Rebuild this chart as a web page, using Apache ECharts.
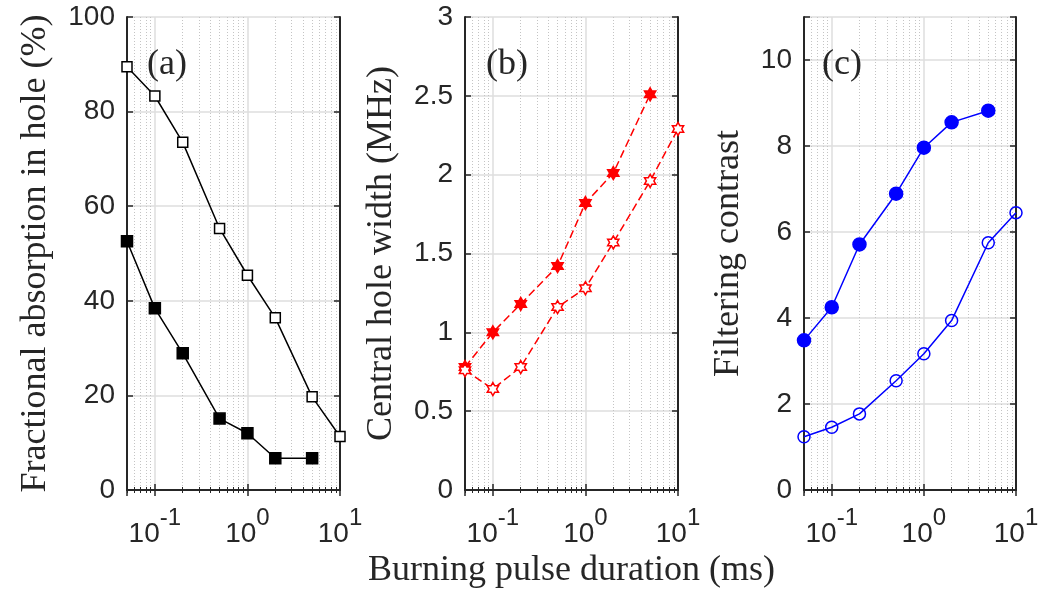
<!DOCTYPE html>
<html>
<head>
<meta charset="utf-8">
<title>Burning pulse duration</title>
<script src="https://cdn.jsdelivr.net/npm/echarts@6/dist/echarts.min.js"></script>
<style>
html,body{margin:0;padding:0;background:#fff}
#main{width:1063px;height:591px}
</style>
</head>
<body>
<div id="main"></div>
<script>
// burning pulse duration (ms)
var durations = [0.05, 0.1, 0.2, 0.5, 1, 2, 5, 10];
// (a) fractional absorption in hole (%)
var absorptionOpen = [89.5, 83.3, 73.5, 55.3, 45.4, 36.4, 19.7, 11.3];
var absorptionFilled = [52.6, 38.4, 28.9, 15.1, 12.0, 6.7, 6.7];
// (b) central hole width (MHz)
var widthFilled = [0.78, 1.0, 1.18, 1.42, 1.82, 2.01, 2.51];
var widthOpen = [0.76, 0.64, 0.78, 1.16, 1.28, 1.57, 1.96, 2.29];
// (c) filtering contrast
var contrastFilled = [3.48, 4.25, 5.71, 6.89, 7.96, 8.55, 8.82];
var contrastOpen = [1.24, 1.46, 1.77, 2.54, 3.17, 3.94, 5.75, 6.45];

var panelLabels = ['(a)', '(b)', '(c)'];
var yTitles = ['Fractional absorption in hole (%)', 'Central hole width (MHz)', 'Filtering contrast'];
var xTitle = 'Burning pulse duration (ms)';
var yMax = [100, 3, 11];
var yStep = [20, 0.5, 2];

var AX = '#262626';
var SERIF = 'Liberation Serif';
var SANS = 'Liberation Sans';

var lefts = [127, 465, 804];
var widths = [213, 213, 212];
var nameGaps = [91, 83, 75];
var labelLefts = [142, 481, 817];

// six pointed star marker
function hexagram() {
  var p = [];
  for (var k = 0; k < 12; k++) {
    var r = k % 2 ? 0.5774 : 1;
    var a = (-90 + 30 * k) * Math.PI / 180;
    p.push((k ? 'L' : 'M') + (50 + 50 * r * Math.cos(a)).toFixed(2) + ' ' + (50 + 50 * r * Math.sin(a)).toFixed(2));
  }
  return 'path://' + p.join(' ') + ' Z';
}
var HEX = hexagram();

function pts(ys) {
  return ys.map(function (y, i) { return [durations[i], y]; });
}

function logLabel(v) {
  var e = Math.log10(v);
  if (Math.abs(e - Math.round(e)) > 1e-6) return '';
  return '{b|10}{s|' + Math.round(e) + '}';
}

var grids = [], xAxes = [], yAxes = [], titles = [];
for (var i = 0; i < 3; i++) {
  grids.push({left: lefts[i], top: 17, width: widths[i], height: 473, outerBoundsMode: 'none'});
  titles.push({text: panelLabels[i], left: labelLefts[i], top: 42,
    textStyle: {fontFamily: SERIF, fontSize: 36, fontWeight: 'normal', color: AX}});
  // bottom log axis
  xAxes.push({
    type: 'log', logBase: 10, gridIndex: i, min: 0.05, max: 10, position: 'bottom',
    name: i === 1 ? xTitle : '', nameLocation: 'middle', nameGap: 74,
    nameTextStyle: {fontFamily: SERIF, fontSize: 36, color: AX, verticalAlign: 'middle'},
    axisLine: {show: true, lineStyle: {color: AX, width: 2}},
    axisTick: {show: true, inside: true, length: 6, lineStyle: {color: AX, width: 1.5}},
    minorTick: {show: true, splitNumber: 9, length: 3, lineStyle: {color: AX, width: 1}},
    axisLabel: {formatter: logLabel, margin: 16, color: AX,
      rich: {
        b: {fontFamily: SANS, fontSize: 28, color: AX, lineHeight: 42, verticalAlign: 'bottom'},
        s: {fontFamily: SANS, fontSize: 24, color: AX, lineHeight: 16, verticalAlign: 'top'}
      }},
    splitLine: {show: true, lineStyle: {color: '#dedede', width: 1.5}},
    minorSplitLine: {show: true, lineStyle: {color: '#c4c4c4', width: 1, type: [1, 2]}}
  });
  // top mirror axis
  xAxes.push({
    type: 'log', logBase: 10, gridIndex: i, min: 0.05, max: 10, position: 'top',
    axisLine: {show: true, lineStyle: {color: AX, width: 2}},
    axisTick: {show: true, inside: true, length: 6, lineStyle: {color: AX, width: 1.5}},
    minorTick: {show: true, splitNumber: 9, length: 3, lineStyle: {color: AX, width: 1}},
    axisLabel: {show: false}, splitLine: {show: false}
  });
  yAxes.push({
    type: 'value', gridIndex: i, min: 0, max: yMax[i], interval: yStep[i], position: 'left',
    name: yTitles[i], nameLocation: 'middle', nameGap: nameGaps[i], nameRotate: 90,
    nameTextStyle: {fontFamily: SERIF, fontSize: 36, color: AX, verticalAlign: 'middle'},
    axisLine: {show: true, lineStyle: {color: AX, width: 2}},
    axisTick: {show: true, inside: true, length: 6, lineStyle: {color: AX, width: 1.5}},
    axisLabel: {fontFamily: SANS, fontSize: 28, color: AX, margin: 12,
      formatter: function (v) { return v > 10 && v < 11.5 ? '' : String(v); }},
    splitLine: {show: true, lineStyle: {color: '#dedede', width: 1.5}}
  });
  yAxes.push({
    type: 'value', gridIndex: i, min: 0, max: yMax[i], interval: yStep[i], position: 'right',
    axisLine: {show: true, lineStyle: {color: AX, width: 2}},
    axisTick: {show: true, inside: true, length: 6, lineStyle: {color: AX, width: 1.5}},
    axisLabel: {show: false}, splitLine: {show: false}
  });
}

// face: 'fill' solid marker, 'white' white-faced, 'none' see-through
function line(panel, ys, color, symbol, size, face, dashed) {
  var fill = face === 'fill' ? color : (face === 'white' ? '#fff' : 'rgba(0,0,0,0)');
  return {
    type: 'line', xAxisIndex: 2 * panel, yAxisIndex: 2 * panel,
    data: pts(ys), symbol: symbol, symbolSize: size, symbolKeepAspect: true, showAllSymbol: true,
    lineStyle: {color: color, width: 1.5, type: dashed ? [8, 4] : 'solid'},
    itemStyle: {color: fill, borderColor: color, borderWidth: 1.5},
    z: 5
  };
}

var series = [
  line(0, absorptionOpen, '#000', 'rect', 10, 'white'),
  line(0, absorptionFilled, '#000', 'rect', 11, 'fill'),
  line(1, widthFilled, '#ff0000', HEX, 13, 'fill', true),
  line(1, widthOpen, '#ff0000', HEX, 13, 'white', true),
  line(2, contrastFilled, '#0000ff', 'circle', 13, 'fill'),
  line(2, contrastOpen, '#0000ff', 'circle', 12, 'none')
];

var myChart = echarts.init(document.getElementById('main'), null, {renderer: 'canvas'});
myChart.setOption({
  animation: false,
  backgroundColor: '#fff',
  title: titles,
  grid: grids,
  xAxis: xAxes,
  yAxis: yAxes,
  series: series
});
</script>
</body>
</html>
